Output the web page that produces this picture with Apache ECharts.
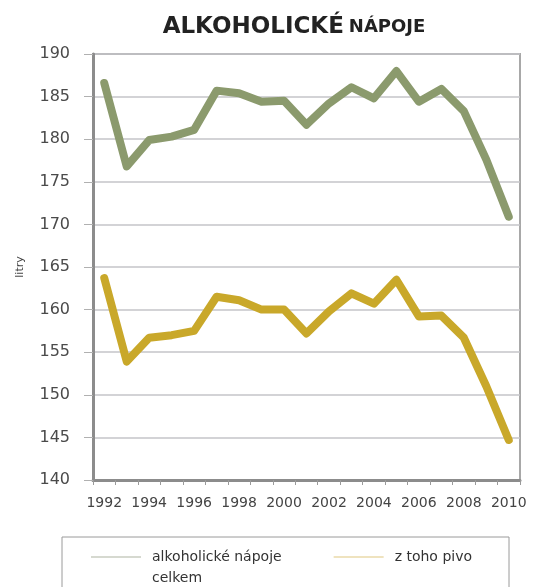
<!DOCTYPE html>
<html>
<head>
<meta charset="utf-8">
<script src="https://cdn.jsdelivr.net/npm/echarts@6/dist/echarts.min.js"></script>
<style>
  html, body { margin: 0; padding: 0; background: #ffffff; }
  #chart { width: 539px; height: 587px; }
</style>
</head>
<body>
<div id="chart"></div>
<script>
// Spotřeba alkoholických nápojů na obyvatele (litry)
const years = ['1992', '1993', '1994', '1995', '1996', '1997', '1998', '1999', '2000', '2001',
               '2002', '2003', '2004', '2005', '2006', '2007', '2008', '2009', '2010'];
const alkoholCelkem = [186.6, 176.8, 179.9, 180.3, 181.1, 185.7, 185.4, 184.4, 184.5, 181.7,
                       184.2, 186.1, 184.8, 188.0, 184.4, 185.9, 183.3, 177.6, 170.9];
const pivo = [163.7, 153.9, 156.7, 157.0, 157.5, 161.5, 161.1, 160.0, 160.0, 157.2,
              159.8, 161.9, 160.7, 163.5, 159.2, 159.3, 156.7, 151.0, 144.7];
const seriesNames = ['alkoholické nápoje celkem', 'z toho pivo'];

const FONT = 'DejaVu Sans';
const chart = echarts.init(document.getElementById('chart'), null, { renderer: 'canvas' });

chart.setOption({
  backgroundColor: '#ffffff',
  animation: false,
  title: {
    text: '{a|ALKOHOLICKÉ} {b|NÁPOJE}',
    left: 289,
    top: 11,
    textAlign: 'center',
    textStyle: {
      rich: {
        a: { fontFamily: FONT, fontWeight: 'bold', fontSize: 23, color: '#222222' },
        b: { fontFamily: FONT, fontWeight: 'bold', fontSize: 18, color: '#222222' }
      }
    }
  },
  grid: {
    left: 93, right: 19, top: 54, bottom: 107,
    show: true,
    backgroundColor: '#ffffff',
    borderColor: '#a8a8a8',
    borderWidth: 2
  },
  legend: {
    left: 62,
    top: 537,
    padding: [13, 37, 10, 29],
    orient: 'horizontal',
    itemGap: 52,
    itemWidth: 50,
    itemHeight: 2,
    icon: 'rect',
    borderColor: '#9a9a9a',
    borderWidth: 1,
    data: [
      { name: seriesNames[0], itemStyle: { color: '#d6d9d0' } },
      { name: seriesNames[1], itemStyle: { color: '#efe3bf' } }
    ],
    formatter: function (name) {
      if (name === seriesNames[0]) {
        return '{l1|alkoholické nápoje}\n{l2|celkem}';
      }
      return '{l1|' + name + '}';
    },
    textStyle: {
      fontFamily: FONT,
      fontSize: 14,
      color: '#333333',
      padding: [0, 0, 0, 6],
      rich: {
        l1: { fontFamily: FONT, fontSize: 14, color: '#333333', lineHeight: 42 },
        l2: { fontFamily: FONT, fontSize: 14, color: '#333333', lineHeight: 0 }
      }
    }
  },
  xAxis: {
    type: 'category',
    data: years,
    boundaryGap: true,
    axisLine: { show: true, lineStyle: { color: '#8c8c8c', width: 3 } },
    axisTick: { show: true, interval: 0, length: 5, lineStyle: { color: '#9a9a9a', width: 1 } },
    axisLabel: {
      interval: 1,
      margin: 16,
      fontFamily: FONT,
      fontSize: 14,
      color: '#444444'
    },
    splitLine: { show: false }
  },
  yAxis: {
    type: 'value',
    min: 140,
    max: 190,
    interval: 5,
    name: 'litry',
    nameLocation: 'middle',
    nameGap: 67,
    nameRotate: 90,
    nameTextStyle: { fontFamily: FONT, fontSize: 11, color: '#444444' },
    axisLine: { show: true, lineStyle: { color: '#8c8c8c', width: 3 } },
    axisTick: { show: true, inside: false, length: 9, lineStyle: { color: '#b0b0b0', width: 1 } },
    axisLabel: {
      margin: 23,
      fontFamily: FONT,
      fontSize: 16,
      color: '#4a4a4a'
    },
    splitLine: { show: true, lineStyle: { color: '#c4c4c8', width: 1.5 } }
  },
  series: [
    {
      name: seriesNames[0],
      type: 'line',
      data: alkoholCelkem,
      symbol: 'none',
      lineStyle: { color: '#8b9a6d', width: 8, cap: 'round', join: 'round' },
      itemStyle: { color: '#8b9a6d' }
    },
    {
      name: seriesNames[1],
      type: 'line',
      data: pivo,
      symbol: 'none',
      lineStyle: { color: '#c9a82a', width: 8, cap: 'round', join: 'round' },
      itemStyle: { color: '#c9a82a' }
    }
  ]
});
</script>
</body>
</html>
